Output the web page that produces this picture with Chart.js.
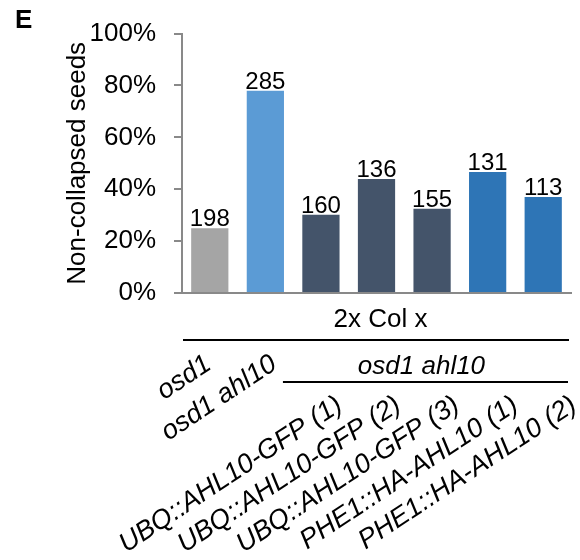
<!DOCTYPE html>
<html>
<head>
<meta charset="utf-8">
<script src="https://cdn.jsdelivr.net/npm/chart.js@4"></script>
<style>
  html, body { margin: 0; padding: 0; background: #fff; }
  #wrap { width: 580px; height: 560px; position: relative; }
</style>
</head>
<body>
<div id="wrap"><canvas id="chart"></canvas></div>
<script>
// Lines tested, share of non-collapsed seeds (%) and number of seeds scored
const categories = [
  'osd1',
  'osd1 ahl10',
  'UBQ::AHL10-GFP (1)',
  'UBQ::AHL10-GFP (2)',
  'UBQ::AHL10-GFP (3)',
  'PHE1::HA-AHL10 (1)',
  'PHE1::HA-AHL10 (2)'
];
const nonCollapsed = [25.0, 78.0, 30.2, 43.9, 32.5, 46.6, 37.0];
const seedCounts = [198, 285, 160, 136, 155, 131, 113];
const yTicks = [0, 20, 40, 60, 80, 100];
const barColors = ['#a5a5a5', '#5b9bd5', '#44546a', '#44546a', '#44546a', '#2e75b6', '#2e75b6'];

const FONT = "'Liberation Sans', Arial, Helvetica, sans-serif";
const AXIS_GREY = '#898989';

// Panel letter, counts above bars, cross brackets and slanted line names
const annotations = {
  id: 'annotations',
  afterDraw(chart) {
    const ctx = chart.ctx;
    const area = chart.chartArea;
    const x = chart.scales.x;
    const bars = chart.getDatasetMeta(0).data;
    ctx.save();
    ctx.fillStyle = '#000';
    ctx.strokeStyle = '#000';

    // panel letter
    ctx.font = 'bold 26px ' + FONT;
    ctx.textAlign = 'left';
    ctx.textBaseline = 'alphabetic';
    ctx.fillText('E', 15, 28);

    // seed counts above bars
    ctx.font = '24px ' + FONT;
    ctx.textAlign = 'center';
    bars.forEach((bar, i) => {
      ctx.fillText(String(seedCounts[i]), bar.x, bar.y - 2);
    });

    // "2x Col x" bracket
    ctx.font = '26px ' + FONT;
    ctx.fillText('2x Col x', (area.left + area.right) / 2 + 4, area.bottom + 34);
    ctx.lineWidth = 2;
    ctx.beginPath();
    ctx.moveTo(area.left + 1, area.bottom + 47);
    ctx.lineTo(area.right - 2, area.bottom + 47);
    ctx.stroke();

    // "osd1 ahl10" bracket over the complemented lines
    const l2start = x.getPixelForValue(2) - 38;
    const l2end = area.right - 3;
    ctx.font = 'italic 26px ' + FONT;
    ctx.fillText('osd1 ahl10', (l2start + l2end) / 2 - 4, area.bottom + 81);
    ctx.beginPath();
    ctx.moveTo(l2start, area.bottom + 89);
    ctx.lineTo(l2end, area.bottom + 89);
    ctx.stroke();

    // slanted line names: the two parents sit above the second bracket,
    // the transgenic lines below it, spread slightly wider than the bars
    ctx.font = 'italic 27px ' + FONT;
    ctx.textAlign = 'right';
    ctx.textBaseline = 'alphabetic';
    const angle = -33.5 * Math.PI / 180;
    categories.forEach((name, i) => {
      let px, py;
      if (i === 0) { px = x.getPixelForValue(i) + 3; py = area.bottom + 75; }
      else if (i === 1) { px = x.getPixelForValue(i) + 13; py = area.bottom + 75; }
      else { px = x.getPixelForValue(i) + 23 + (i - 2) * 3; py = area.bottom + 116; }
      ctx.save();
      ctx.translate(px, py);
      ctx.rotate(angle);
      ctx.fillText(name, 0, 0);
      ctx.restore();
    });
    ctx.restore();
  }
};

new Chart(document.getElementById('chart'), {
  type: 'bar',
  data: {
    labels: categories,
    datasets: [{
      data: nonCollapsed,
      backgroundColor: barColors,
      borderWidth: 0,
      categoryPercentage: 1.0,
      barPercentage: 0.67
    }]
  },
  options: {
    responsive: true,
    maintainAspectRatio: false,
    animation: false,
    layout: { padding: { top: 32, right: 9, bottom: 267, left: 0 } },
    plugins: {
      legend: { display: false },
      tooltip: { enabled: false }
    },
    scales: {
      x: {
        ticks: { display: false },
        grid: { display: false },
        border: { display: true, color: AXIS_GREY, width: 2 },
        afterFit(scale) { scale.height = 0; }
      },
      y: {
        min: 0,
        max: 100,
        afterBuildTicks(scale) { scale.ticks = yTicks.map(v => ({ value: v })); },
        ticks: {
          callback: v => v + '%',
          font: { family: FONT, size: 26 },
          color: '#000',
          padding: 18
        },
        grid: {
          display: true,
          drawOnChartArea: false,
          drawTicks: true,
          tickLength: 8,
          color: AXIS_GREY,
          lineWidth: 2
        },
        border: { display: true, color: AXIS_GREY, width: 2 },
        title: {
          display: true,
          text: 'Non-collapsed seeds',
          font: { family: FONT, size: 26 },
          color: '#000',
          padding: { top: 62, bottom: 0 }
        },
        afterFit(scale) { scale.width = 182; }
      }
    }
  },
  plugins: [annotations]
});
</script>
</body>
</html>
